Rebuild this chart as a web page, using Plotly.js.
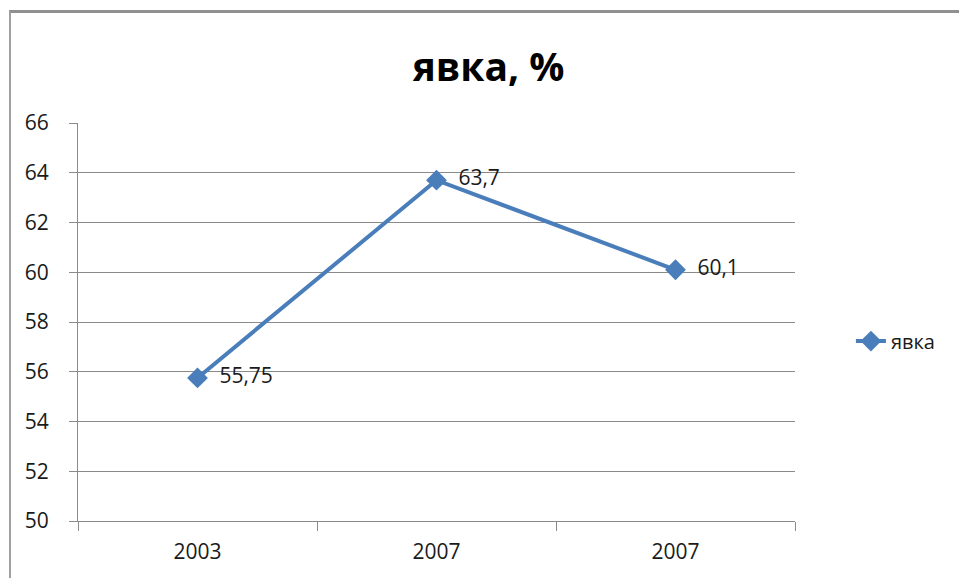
<!DOCTYPE html>
<html><head><meta charset="utf-8">
<script src="https://cdn.plot.ly/plotly-3.0.1.min.js"></script>
<style>
html,body{margin:0;padding:0;background:#fff;}
#wrap{position:relative;width:959px;height:578px;overflow:hidden;}
#chart{width:959px;height:578px;}
#frame{position:absolute;left:9px;top:10px;width:1000px;height:700px;border-left:2px solid #a0a0a0;border-top:3px solid #909090;pointer-events:none;}
</style></head>
<body><div id="wrap"><div id="chart"></div><div id="frame"></div></div>
<script>
const categories = ["2003", "2007", "2007"];
const seriesName = "явка";
const values = [55.75, 63.7, 60.1];
const chartTitle = "явка, %";

const idx = categories.map((c, i) => i);
const labels = values.map(v => "\u00a0\u00a0" + String(v).replace(".", ","));
const gridCol = "#8a8a8a";
const font = "Open Sans, DejaVu Sans, sans-serif";

const trace = {
  x: idx, y: values, type: "scatter", mode: "lines+markers+text",
  name: seriesName,
  line: {color: "#4A7EBB", width: 4},
  marker: {symbol: "diamond", size: 16, color: "#4A7EBB"},
  text: labels, textposition: "middle right",
  textfont: {family: font, size: 21, color: "#1a1a1a"},
  cliponaxis: false
};

const layout = {
  width: 959, height: 578,
  margin: {l: 78, r: 164, t: 123, b: 57},
  paper_bgcolor: "#fff", plot_bgcolor: "#fff",
  title: {text: "<b>" + chartTitle + "</b>", font: {family: font, size: 39, color: "#000"},
          x: 0.5 + 9/959, xref: "container", y: 1 - 67/578, yref: "container", yanchor: "middle"},
  showlegend: true,
  legend: {x: 1.078, xanchor: "left", y: 0.452, yanchor: "middle",
           font: {family: font, size: 20, color: "#1a1a1a"}, bgcolor: "rgba(0,0,0,0)"},
  xaxis: {
    range: [-0.5, 2.5], tickmode: "array", tickvals: idx, ticktext: categories,
    showgrid: false, zeroline: false, showline: true, linecolor: gridCol, linewidth: 1,
    ticks: "outside", ticklen: 12, tickcolor: "rgba(0,0,0,0)",
    tickfont: {family: font, size: 21, color: "#1a1a1a"},
    minor: {tickmode: "array", tickvals: [-0.5, 0.5, 1.5, 2.5], ticks: "outside",
            ticklen: 9, tickcolor: gridCol, tickwidth: 1, showgrid: false},
    fixedrange: true
  },
  yaxis: {
    range: [50, 66], tickmode: "linear", tick0: 50, dtick: 2,
    showgrid: true, gridcolor: gridCol, gridwidth: 1, zeroline: false,
    showline: true, linecolor: gridCol, linewidth: 1,
    ticks: "outside", ticklen: 8, tickcolor: gridCol, tickwidth: 1,
    ticklabelstandoff: 16,
    tickfont: {family: font, size: 21, color: "#1a1a1a"},
    fixedrange: true
  }
};

Plotly.newPlot("chart", [trace], layout, {displayModeBar: false, staticPlot: true});
</script></body></html>
